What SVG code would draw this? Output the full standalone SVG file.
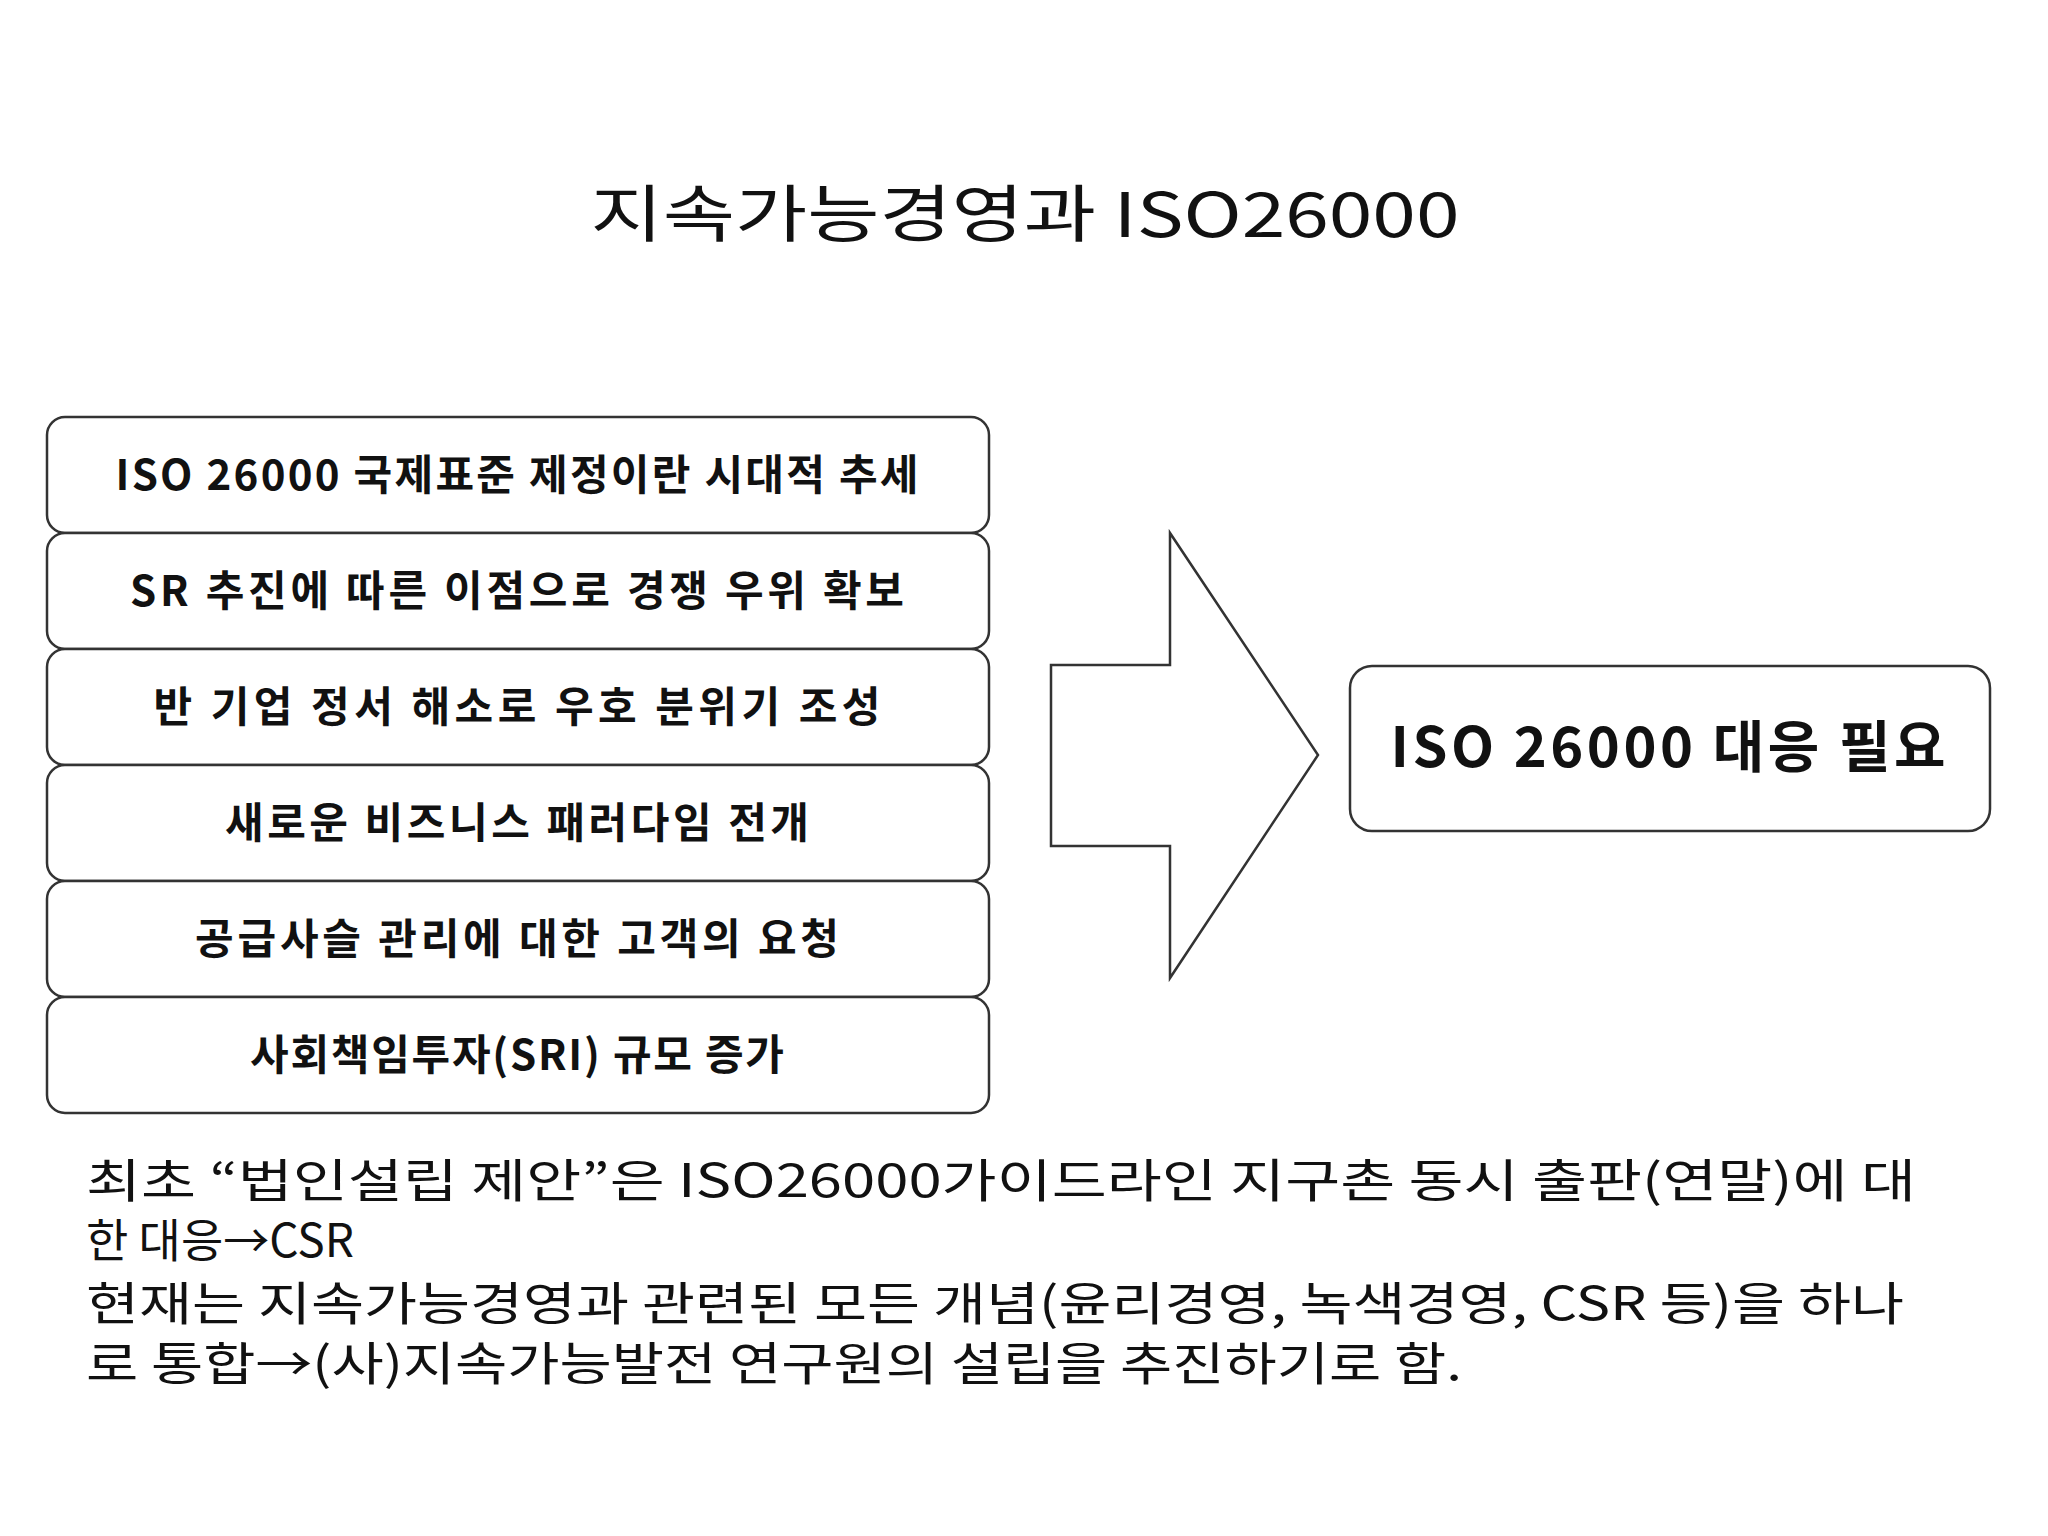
<svg xmlns="http://www.w3.org/2000/svg" width="2048" height="1536" viewBox="0 0 2048 1536">
<style>
.b{fill:#fff;stroke:#333;stroke-width:2.5}
.t{font-family:"Noto Sans CJK KR","Noto Sans",sans-serif;fill:#111}
.bt{font-size:42px;font-weight:bold;text-anchor:middle}
.p{font-size:46px}
</style>
<rect width="2048" height="1536" fill="#fff"/>
<text class="t" x="1025" y="237" font-size="62" text-anchor="middle" textLength="869" lengthAdjust="spacingAndGlyphs">지속가능경영과 ISO26000</text>
<g id="n1"><rect class="b" x="47" y="417" width="942" height="116" rx="18"/><text class="t bt" x="517" y="490" textLength="803" lengthAdjust="spacing">ISO 26000 국제표준 제정이란 시대적 추세</text></g>
<g id="n2"><rect class="b" x="47" y="533" width="942" height="116" rx="18"/><text class="t bt" x="517" y="606" textLength="774" lengthAdjust="spacing">SR 추진에 따른 이점으로 경쟁 우위 확보</text></g>
<g id="n3"><rect class="b" x="47" y="649" width="942" height="116" rx="18"/><text class="t bt" x="517" y="722" textLength="727" lengthAdjust="spacing">반 기업 정서 해소로 우호 분위기 조성</text></g>
<g id="n4"><rect class="b" x="47" y="765" width="942" height="116" rx="18"/><text class="t bt" x="517" y="838" textLength="584" lengthAdjust="spacing">새로운 비즈니스 패러다임 전개</text></g>
<g id="n5"><rect class="b" x="47" y="881" width="942" height="116" rx="18"/><text class="t bt" x="517" y="954" textLength="644" lengthAdjust="spacing">공급사슬 관리에 대한 고객의 요청</text></g>
<g id="n6"><rect class="b" x="47" y="997" width="942" height="116" rx="18"/><text class="t bt" x="517" y="1070" textLength="534" lengthAdjust="spacing">사회책임투자(SRI) 규모 증가</text></g>
<g id="connectors"><polygon points="1051,665 1170,665 1170,533 1318,755 1170,978 1170,846 1051,846" fill="#fff" stroke="#333" stroke-width="2.5"/></g>
<g id="n7"><rect class="b" x="1350" y="666" width="640" height="165" rx="22"/><text class="t" x="1668" y="767" font-size="56" font-weight="bold" text-anchor="middle" textLength="555" lengthAdjust="spacing">ISO 26000 대응 필요</text></g>
<text class="t p" x="86" y="1197" textLength="1830" lengthAdjust="spacingAndGlyphs">최초  “법인설립 제안”은 ISO26000가이드라인 지구촌 동시 출판(연말)에 대</text>
<text class="t p" x="86" y="1257">한 대응→CSR</text>
<text class="t p" x="86" y="1320" textLength="1818" lengthAdjust="spacingAndGlyphs">현재는 지속가능경영과 관련된 모든 개념(윤리경영, 녹색경영, CSR 등)을 하나</text>
<text class="t p" x="86" y="1380" textLength="1376" lengthAdjust="spacingAndGlyphs">로 통합→(사)지속가능발전 연구원의 설립을 추진하기로 함.</text>
</svg>
